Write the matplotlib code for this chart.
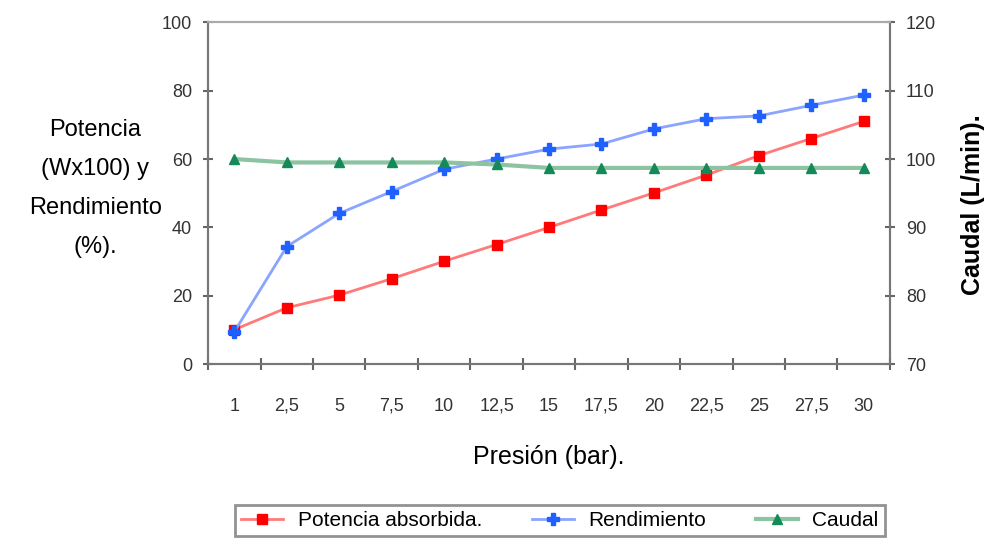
import matplotlib
matplotlib.use("Agg")
import matplotlib.pyplot as plt
import numpy as np

plt.rcParams["font.family"] = ["Liberation Sans", "DejaVu Sans"]

presion = ["1", "2,5", "5", "7,5", "10", "12,5", "15", "17,5", "20", "22,5", "25", "27,5", "30"]
potencia = [10.1, 16.5, 20.2, 25.0, 30.1, 35.0, 40.0, 45.1, 50.1, 55.3, 61.0, 66.0, 71.0]
rendimiento = [9.5, 34.4, 44.1, 50.5, 57.0, 60.0, 62.9, 64.4, 68.8, 71.8, 72.6, 75.7, 78.7]
caudal = [100.0, 99.5, 99.5, 99.5, 99.5, 99.2, 98.7, 98.7, 98.7, 98.7, 98.7, 98.7, 98.7]

x = np.arange(len(presion))

fig = plt.figure(figsize=(9.91, 5.42), dpi=100)
ax = fig.add_axes([0.21, 0.328, 0.688, 0.631])
ax2 = ax.twinx()

l1, = ax.plot(x, potencia, color="#ff7a7a", lw=2, marker="s", ms=7,
              mfc="#ff0000", mec="#ff0000", label="Potencia absorbida.")
l2, = ax.plot(x, rendimiento, color="#8aa4ff", lw=2, marker="P", ms=8,
              mfc="#2060ff", mec="#2060ff", label="Rendimiento")
l3, = ax2.plot(x, caudal, color="#8cc4a2", lw=3, marker="^", ms=7,
               mfc="#138a58", mec="#138a58", label="Caudal")

ax.set_xlim(-0.5, len(presion) - 0.5)
ax.set_ylim(0, 100)
ax2.set_ylim(70, 120)
ax.set_yticks(np.arange(0, 101, 20))
ax2.set_yticks(np.arange(70, 121, 10))
ax.set_xticks(x)
ax.set_xticklabels(presion)
ax.set_xticks(np.arange(-0.5, len(presion)), minor=True)

for a in (ax, ax2):
    for s in a.spines.values():
        s.set_color("#777777")
        s.set_linewidth(1.5)
ax.spines["top"].set_color("#aaaaaa")
ax2.spines["top"].set_color("#aaaaaa")

ax.tick_params(axis="x", which="major", length=0, pad=24, labelsize=13)
ax.tick_params(axis="x", which="minor", length=8, direction="inout", color="#666666", width=1.5)
ax.tick_params(axis="y", length=7, direction="inout", labelsize=13, color="#666666",
               width=1.5, pad=8)
ax2.tick_params(axis="y", length=7, direction="inout", labelsize=13, color="#666666",
                width=1.5, pad=8)
for t in ax.get_xticklabels() + ax.get_yticklabels() + ax2.get_yticklabels():
    t.set_color("#333333")

ax.set_xlabel("Presión (bar).", fontsize=18, labelpad=22)
fig.text(0.096, 0.652, "Potencia\n(Wx100) y\nRendimiento\n(%).", ha="center", va="center",
         fontsize=17, linespacing=2.0)
fig.text(0.982, 0.622, "Caudal (L/min).", rotation=90, ha="center", va="center",
         fontsize=18, fontweight="bold")

leg = fig.legend([l1, l2, l3], [l.get_label() for l in (l1, l2, l3)],
                 loc="center", bbox_to_anchor=(0.565, 0.04), ncol=3, fontsize=15,
                 frameon=True, fancybox=False, edgecolor="#777777",
                 handlelength=2, handletextpad=0.7, columnspacing=2.4, borderpad=0.3)
leg.get_frame().set_linewidth(2)

fig.savefig("out.png", dpi=100)
